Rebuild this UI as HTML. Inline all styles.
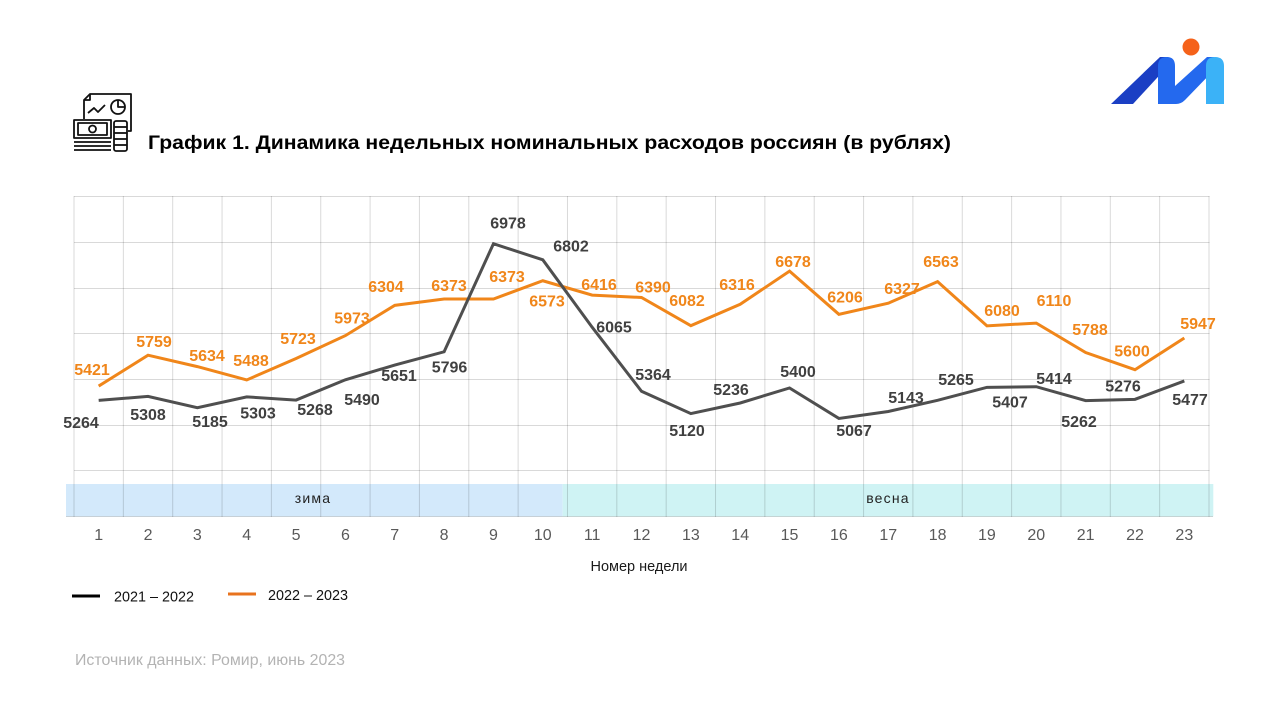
<!DOCTYPE html>
<html>
<head>
<meta charset="utf-8">
<style>
  html,body{margin:0;padding:0;background:#fff;}
  svg{display:block;}
  .lb{font-family:"Liberation Sans",Arial,sans-serif;font-weight:bold;font-size:16px;text-anchor:middle;}
  .bk{fill:#404040;}
  .or{fill:#f0861a;}
  .ax{font-family:"Liberation Sans",Arial,sans-serif;font-size:16px;fill:#595959;text-anchor:middle;}
</style>
</head>
<body>
<svg width="1280" height="720" viewBox="0 0 1280 720" xmlns="http://www.w3.org/2000/svg">
  <rect width="1280" height="720" fill="#fff"/>

  <!-- Logo -->
  <polygon points="1111,104 1133,104 1168,66 1168,57 1160,57" fill="#1b3fc4"/>
  <path d="M1158,104 L1158,66 Q1158,57 1167,57 Q1175,57 1175,66 L1175,86 L1207,57 L1214,57 L1214,70 L1185,100 Q1181,104 1176,104 Z" fill="#2469ee"/>
  <path d="M1206,104 L1206,66 Q1206,57 1215,57 Q1224,57 1224,66 L1224,104 Z" fill="#3bb2f7"/>
  <circle cx="1191" cy="47" r="8.5" fill="#f5621a"/>

  <!-- Icon -->
  <g fill="none" stroke="#111" stroke-width="1.8" stroke-linejoin="round">
    <path d="M84,119 L84,100 L90,94 L131,94 L131,131 L128,131"/>
    <path d="M84,100 L90,100 L90,94"/>
    <polyline points="88,113 94,108 98,112 105,105"/>
    <circle cx="118" cy="107" r="7"/>
    <path d="M118,100 L118,107 L125,107"/>
    <rect x="74" y="120" width="37" height="18"/>
    <rect x="78" y="123" width="29" height="12"/>
    <circle cx="92.5" cy="129" r="3.5"/>
    <line x1="74" y1="142" x2="111" y2="142"/>
    <line x1="74" y1="146" x2="111" y2="146"/>
    <line x1="74" y1="150" x2="111" y2="150"/>
    <rect x="114" y="121" width="13" height="30" rx="2"/>
    <line x1="114" y1="127" x2="127" y2="127"/>
    <line x1="114" y1="133" x2="127" y2="133"/>
    <line x1="114" y1="139" x2="127" y2="139"/>
    <line x1="114" y1="145" x2="127" y2="145"/>
  </g>

  <!-- Title -->
  <text x="148" y="149" font-family="'Liberation Sans',Arial,sans-serif" font-weight="bold" font-size="19.5" fill="#000" textLength="803" lengthAdjust="spacingAndGlyphs">График 1. Динамика недельных номинальных расходов россиян (в рублях)</text>

  <!-- Season bands -->
  <rect x="66" y="484" width="496.7" height="32.5" fill="#d3e9fb"/>
  <rect x="562.7" y="484" width="650.6" height="32.5" fill="#cff3f4"/>

  <!-- Grid -->
  <g stroke="#000" stroke-opacity="0.15" stroke-width="1">
    <line x1="74" y1="196.5" x2="1209.5" y2="196.5"/>
    <line x1="74" y1="242.5" x2="1209.5" y2="242.5"/>
    <line x1="74" y1="288.5" x2="1209.5" y2="288.5"/>
    <line x1="74" y1="333.5" x2="1209.5" y2="333.5"/>
    <line x1="74" y1="379.5" x2="1209.5" y2="379.5"/>
    <line x1="74" y1="425.5" x2="1209.5" y2="425.5"/>
    <line x1="74" y1="470.5" x2="1209.5" y2="470.5"/>
    <line x1="66" y1="516.5" x2="1213" y2="516.5"/>
    <line x1="74" y1="196" x2="74" y2="517"/>
    <line x1="123.35" y1="196" x2="123.35" y2="517"/>
    <line x1="172.7" y1="196" x2="172.7" y2="517"/>
    <line x1="222.04" y1="196" x2="222.04" y2="517"/>
    <line x1="271.39" y1="196" x2="271.39" y2="517"/>
    <line x1="320.74" y1="196" x2="320.74" y2="517"/>
    <line x1="370.09" y1="196" x2="370.09" y2="517"/>
    <line x1="419.43" y1="196" x2="419.43" y2="517"/>
    <line x1="468.78" y1="196" x2="468.78" y2="517"/>
    <line x1="518.13" y1="196" x2="518.13" y2="517"/>
    <line x1="567.48" y1="196" x2="567.48" y2="517"/>
    <line x1="616.83" y1="196" x2="616.83" y2="517"/>
    <line x1="666.17" y1="196" x2="666.17" y2="517"/>
    <line x1="715.52" y1="196" x2="715.52" y2="517"/>
    <line x1="764.87" y1="196" x2="764.87" y2="517"/>
    <line x1="814.22" y1="196" x2="814.22" y2="517"/>
    <line x1="863.57" y1="196" x2="863.57" y2="517"/>
    <line x1="912.91" y1="196" x2="912.91" y2="517"/>
    <line x1="962.26" y1="196" x2="962.26" y2="517"/>
    <line x1="1011.61" y1="196" x2="1011.61" y2="517"/>
    <line x1="1060.96" y1="196" x2="1060.96" y2="517"/>
    <line x1="1110.3" y1="196" x2="1110.3" y2="517"/>
    <line x1="1159.65" y1="196" x2="1159.65" y2="517"/>
    <line x1="1209" y1="196" x2="1209" y2="517"/>
  </g>

  <!-- Season labels -->
  <text x="313" y="503" font-family="'Liberation Sans',Arial,sans-serif" font-size="14" fill="#222" text-anchor="middle" letter-spacing="1.2">зима</text>
  <text x="888" y="503" font-family="'Liberation Sans',Arial,sans-serif" font-size="14" fill="#222" text-anchor="middle" letter-spacing="1.2">весна</text>

  <!-- Series lines -->
  <polyline fill="none" stroke="#f0861a" stroke-width="3" stroke-linejoin="miter"
    points="98.67,386.08 148.02,355.18 197.37,366.61 246.72,379.95 296.07,358.47 345.41,335.61 394.76,305.35 444.11,299.04 493.46,299.04 542.8,280.75 592.15,295.11 641.5,297.49 690.85,325.65 740.2,304.25 789.54,271.15 838.89,314.31 888.24,303.25 937.59,281.67 986.94,325.83 1036.28,323.09 1085.63,352.52 1134.98,369.71 1184.33,337.99"/>
  <polyline fill="none" stroke="#4f4f4f" stroke-width="3" stroke-linejoin="miter"
    points="98.67,400.43 148.02,396.41 197.37,407.66 246.72,396.87 296.07,400.07 345.41,379.77 394.76,365.05 444.11,351.79 493.46,243.73 542.8,259.82 592.15,327.2 641.5,391.29 690.85,413.6 740.2,402.99 789.54,388 838.89,418.45 888.24,411.5 937.59,400.34 986.94,387.36 1036.28,386.72 1085.63,400.62 1134.98,399.34 1184.33,380.96"/>

  <!-- Orange labels -->
  <g class="lb or">
    <text x="92" y="375">5421</text>
    <text x="154" y="347">5759</text>
    <text x="207" y="361">5634</text>
    <text x="251" y="366">5488</text>
    <text x="298" y="344">5723</text>
    <text x="352" y="323.5">5973</text>
    <text x="386" y="292">6304</text>
    <text x="449" y="291">6373</text>
    <text x="507" y="282">6373</text>
    <text x="547" y="306.5">6573</text>
    <text x="599" y="290">6416</text>
    <text x="653" y="292.5">6390</text>
    <text x="687" y="306">6082</text>
    <text x="737" y="290">6316</text>
    <text x="793" y="267">6678</text>
    <text x="845" y="302.5">6206</text>
    <text x="902" y="294">6327</text>
    <text x="941" y="267">6563</text>
    <text x="1002" y="316">6080</text>
    <text x="1054" y="306">6110</text>
    <text x="1090" y="335">5788</text>
    <text x="1132" y="356.5">5600</text>
    <text x="1198" y="329">5947</text>
  </g>

  <!-- Black labels -->
  <g class="lb bk">
    <text x="81" y="428">5264</text>
    <text x="148" y="420">5308</text>
    <text x="210" y="427">5185</text>
    <text x="258" y="418.5">5303</text>
    <text x="315" y="415">5268</text>
    <text x="362" y="405">5490</text>
    <text x="399" y="381">5651</text>
    <text x="449.5" y="372.5">5796</text>
    <text x="508" y="228.5">6978</text>
    <text x="571" y="251.5">6802</text>
    <text x="614" y="332.5">6065</text>
    <text x="653" y="380">5364</text>
    <text x="687" y="436">5120</text>
    <text x="731" y="395">5236</text>
    <text x="798" y="377">5400</text>
    <text x="854" y="436">5067</text>
    <text x="906" y="403">5143</text>
    <text x="956" y="385">5265</text>
    <text x="1010" y="407.5">5407</text>
    <text x="1054" y="384">5414</text>
    <text x="1079" y="427">5262</text>
    <text x="1123" y="391.5">5276</text>
    <text x="1190" y="405">5477</text>
  </g>

  <!-- X axis labels -->
  <g class="ax">
    <text x="98.67" y="540">1</text>
    <text x="148.02" y="540">2</text>
    <text x="197.37" y="540">3</text>
    <text x="246.72" y="540">4</text>
    <text x="296.07" y="540">5</text>
    <text x="345.41" y="540">6</text>
    <text x="394.76" y="540">7</text>
    <text x="444.11" y="540">8</text>
    <text x="493.46" y="540">9</text>
    <text x="542.8" y="540">10</text>
    <text x="592.15" y="540">11</text>
    <text x="641.5" y="540">12</text>
    <text x="690.85" y="540">13</text>
    <text x="740.2" y="540">14</text>
    <text x="789.54" y="540">15</text>
    <text x="838.89" y="540">16</text>
    <text x="888.24" y="540">17</text>
    <text x="937.59" y="540">18</text>
    <text x="986.94" y="540">19</text>
    <text x="1036.28" y="540">20</text>
    <text x="1085.63" y="540">21</text>
    <text x="1134.98" y="540">22</text>
    <text x="1184.33" y="540">23</text>
  </g>

  <text x="639" y="571" font-family="'Liberation Sans',Arial,sans-serif" font-size="14.5" fill="#1a1a1a" text-anchor="middle">Номер недели</text>

  <!-- Legend -->
  <line x1="72" y1="596" x2="100" y2="596" stroke="#000" stroke-width="3"/>
  <text x="114" y="601.5" font-family="'Liberation Sans',Arial,sans-serif" font-size="15" fill="#111" textLength="80" lengthAdjust="spacingAndGlyphs">2021 – 2022</text>
  <line x1="228" y1="594" x2="256" y2="594" stroke="#e8731e" stroke-width="3"/>
  <text x="268" y="600" font-family="'Liberation Sans',Arial,sans-serif" font-size="15" fill="#111" textLength="80" lengthAdjust="spacingAndGlyphs">2022 – 2023</text>

  <!-- Source -->
  <text x="75" y="665" font-family="'Liberation Sans',Arial,sans-serif" font-size="16" fill="#b3b3b3" textLength="270" lengthAdjust="spacingAndGlyphs">Источник данных: Ромир, июнь 2023</text>
</svg>
</body>
</html>
